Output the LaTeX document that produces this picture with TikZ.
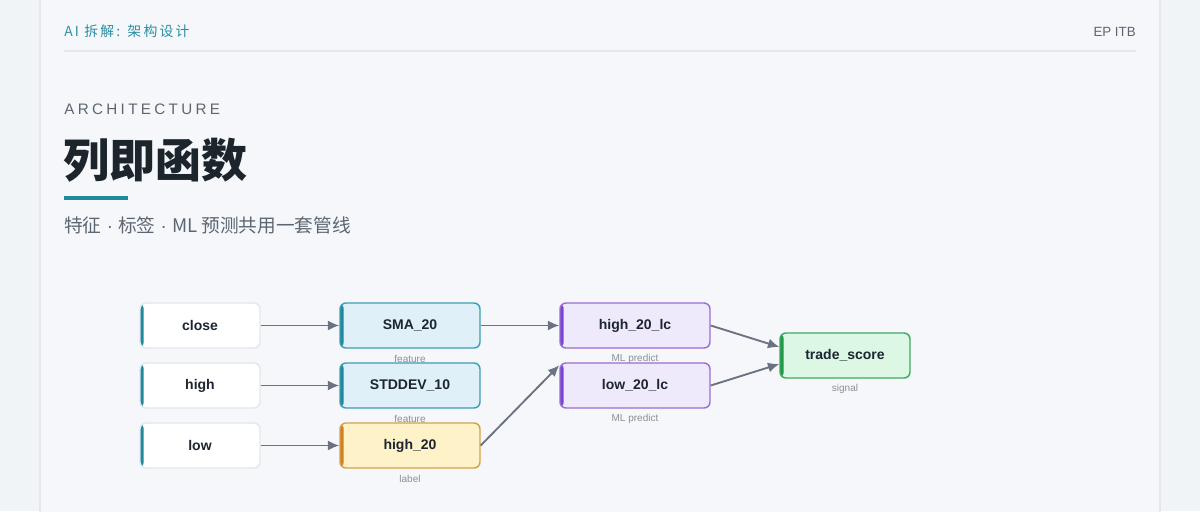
\documentclass[tikz,border=0pt]{standalone}
\usepackage{fontspec}
\setmainfont{Liberation Sans}
\newfontfamily\cjk{Noto Sans CJK SC}
\newfontfamily\cjkspaced{Noto Sans CJK SC}[LetterSpace=16]
\newfontfamily\archfont{Liberation Sans}[LetterSpace=22]
\usetikzlibrary{arrows.meta,calc}
\definecolor{bg}{HTML}{F1F4F7}
\definecolor{card}{HTML}{F5F7FA}
\definecolor{cardline}{HTML}{E4E8ED}
\definecolor{tealc}{HTML}{1F8A9C}
\definecolor{headteal}{HTML}{2A8FA2}
\definecolor{greytext}{HTML}{5D6670}
\definecolor{titleink}{HTML}{1C242C}
\definecolor{ink}{HTML}{1C2530}
\definecolor{inborder}{HTML}{E3E7EC}
\definecolor{featfill}{HTML}{DFF0F8}
\definecolor{featline}{HTML}{3E9DB3}
\definecolor{labfill}{HTML}{FDF2C8}
\definecolor{labline}{HTML}{D6A04A}
\definecolor{labbar}{HTML}{D4801A}
\definecolor{mlfill}{HTML}{EFE9FC}
\definecolor{mlline}{HTML}{9A6ECF}
\definecolor{mlbar}{HTML}{7A45D8}
\definecolor{sigfill}{HTML}{DCF7E3}
\definecolor{sigline}{HTML}{3FA860}
\definecolor{sigbar}{HTML}{1E9A4A}
\definecolor{tagc}{HTML}{8A9099}
\definecolor{arrowc}{HTML}{6B7280}
\tikzset{
  leftbar/.style={path picture={\fill[#1] (path picture bounding box.north west) rectangle ([xshift=2.8pt]path picture bounding box.south west);}},
  box/.style={draw, rounded corners=4.5pt, minimum height=33.75pt, inner sep=0pt,
    font=\bfseries\fontsize{10.5}{12}\selectfont, text=ink, line width=1.05pt},
  inbox/.style={box, fill=white, draw=inborder, minimum width=90pt, leftbar=tealc},
  featbox/.style={box, fill=featfill, draw=featline, minimum width=105pt, leftbar=tealc},
  labbox/.style={box, fill=labfill, draw=labline, minimum width=105pt, leftbar=labbar},
  mlbox/.style={box, fill=mlfill, draw=mlline, minimum width=112.5pt, leftbar=mlbar},
  sigbox/.style={box, fill=sigfill, draw=sigline, minimum width=97.5pt, leftbar=sigbar},
  tag/.style={font=\fontsize{7.5}{9}\selectfont, text=tagc, inner sep=0pt},
  conn/.style={draw=arrowc, line width=1.4pt, -{Latex[length=8.5pt,width=7.5pt]}},
}
\begin{document}
\begin{tikzpicture}[x=0.75pt,y=-0.75pt]
\useasboundingbox (0,0) rectangle (1200,511);
\fill[bg] (0,0) rectangle (1200,511);
\filldraw[fill=card, draw=cardline, line width=1.2pt] (40,-20) rectangle (1160,530);
% header
\node[anchor=west, inner sep=0pt, text=headteal, font=\cjkspaced\fontsize{10.4}{12}\selectfont] (head) at (64,31.5) {AI 拆解: 架构设计};
\node[anchor=base east, inner sep=0pt, text=greytext, font=\fontsize{10}{12}\selectfont] (brand) at (1136,36) {EP ITB};
\draw[cardline, line width=1.2pt] (64,51) -- (1136,51);
% titles
\node[anchor=base west, inner sep=0pt, text=greytext, font=\archfont\fontsize{11.4}{13}\selectfont] (arch) at (64,114) {ARCHITECTURE};
\node[anchor=west, inner sep=0pt, text=titleink, font=\cjk\bfseries\fontsize{34.5}{40}\selectfont] (title) at (63,160) {列即函数};
\fill[tealc] (64,196) rectangle (128,200);
\node[anchor=west, inner sep=0pt, text=greytext, font=\cjk\fontsize{14}{16}\selectfont] (sub) at (64,225.5) {特征{\rmfamily\ ·\ }标签{\rmfamily\ ·\ }ML 预测共用一套管线};
% nodes
\node[inbox] (close) at (200,325.5) {close};
\node[inbox] (high) at (200,385.5) {high};
\node[inbox] (low) at (200,445.5) {low};
\node[featbox] (sma) at (410,325.5) {SMA\_20};
\node[featbox] (std) at (410,385.5) {STDDEV\_10};
\node[labbox] (h20) at (410,445.5) {high\_20};
\node[mlbox] (hlc) at (635,325.5) {high\_20\_lc};
\node[mlbox] (llc) at (635,385.5) {low\_20\_lc};
\node[sigbox] (trade) at (845,355.5) {trade\_score};
% tags
\node[tag] (t1) at (410,358.5) {feature};
\node[tag] (t2) at (410,418.5) {feature};
\node[tag] (t3) at (410,478.5) {label};
\node[tag] (t4) at (635,358.5) {ML predict};
\node[tag] (t5) at (635,418.5) {ML predict};
\node[tag] (t6) at (845,388.5) {signal};
% connectors
\draw[conn] (close) -- (sma);
\draw[conn] (high) -- (std);
\draw[conn] (low) -- (h20);
\draw[conn] (sma) -- (hlc);
\draw[conn] (h20.east) -- ($(llc.north west)+(0,3)$);
\draw[conn] (hlc.east) -- ($(trade.west)+(0,-8.5)$);
\draw[conn] (llc.east) -- ($(trade.west)+(0,8.5)$);
\end{tikzpicture}
\end{document}
